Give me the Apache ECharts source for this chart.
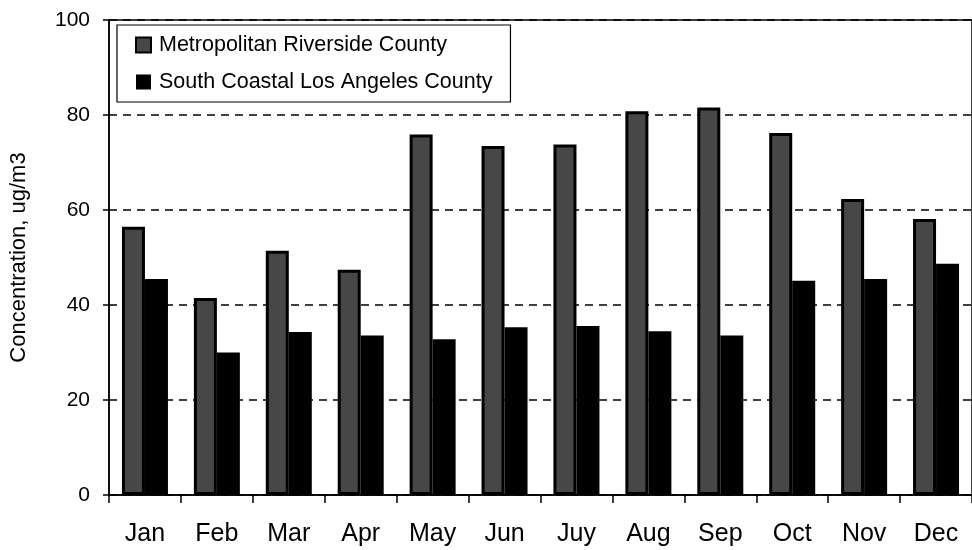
<!DOCTYPE html>
<html><head><meta charset="utf-8">
<script src="https://cdn.jsdelivr.net/npm/echarts@6/dist/echarts.min.js"></script>
<style>html,body{margin:0;padding:0;background:#fff}#c{width:972px;height:550px}</style>
</head><body><div id="c"></div>
<script>
const months = ['Jan','Feb','Mar','Apr','May','Jun','Juy','Aug','Sep','Oct','Nov','Dec'];
const riverside = [56.5, 41.5, 51.4, 47.4, 75.9, 73.5, 73.8, 80.8, 81.6, 76.2, 62.3, 58.1];
const losAngeles = [45.5, 30.0, 34.3, 33.6, 32.8, 35.3, 35.6, 34.5, 33.6, 45.1, 45.5, 48.7];
const seriesNames = ['Metropolitan Riverside County', 'South Coastal Los Angeles County'];
const yTicks = [0, 20, 40, 60, 80, 100];

const chart = echarts.init(document.getElementById('c'), null, {renderer: 'canvas'});
const font = 'Liberation Sans, Arial, sans-serif';
chart.setOption({
  animation: false,
  backgroundColor: '#fff',
  grid: {left: 101, top: 20, width: 877, height: 475, show: true, borderColor: '#000', borderWidth: 1.5, backgroundColor: 'transparent'},
  legend: {
    orient: 'vertical', left: 117, top: 25,
    padding: [9, 18, 9, 18], itemGap: 15,
    backgroundColor: '#fff', borderColor: '#000', borderWidth: 1.2,
    itemWidth: 15, itemHeight: 15, icon: 'rect',
    textStyle: {fontFamily: font, fontSize: 21.5, color: '#000', padding: [0, 0, 0, 3]},
    data: seriesNames
  },
  xAxis: {
    type: 'category', data: months,
    axisLine: {lineStyle: {color: '#000', width: 1.5}},
    axisTick: {show: true, length: 8, lineStyle: {color: '#000', width: 1.5}},
    axisLabel: {fontFamily: font, fontSize: 25, color: '#000', margin: 27},
    splitLine: {show: false}
  },
  yAxis: {
    type: 'value', min: yTicks[0], max: yTicks[yTicks.length - 1], interval: 20,
    name: 'Concentration, ug/m3', nameLocation: 'middle', nameGap: 79, nameRotate: 90,
    nameTextStyle: {fontFamily: font, fontSize: 22, color: '#000'},
    axisLine: {show: true, lineStyle: {color: '#000', width: 1.5}},
    axisTick: {show: true, length: 6, lineStyle: {color: '#000', width: 1.5}},
    axisLabel: {fontFamily: font, fontSize: 21, color: '#000', margin: 19},
    splitLine: {show: true, lineStyle: {color: '#000', type: [8, 6], width: 1.5}}
  },
  series: [
    {name: seriesNames[0], type: 'bar', data: riverside, barWidth: 23, barGap: '0%',
     itemStyle: {color: '#474747', borderColor: '#000', borderWidth: 3}},
    {name: seriesNames[1], type: 'bar', data: losAngeles, barWidth: 23, barGap: '0%',
     itemStyle: {color: '#000'}}
  ]
});
</script></body></html>
